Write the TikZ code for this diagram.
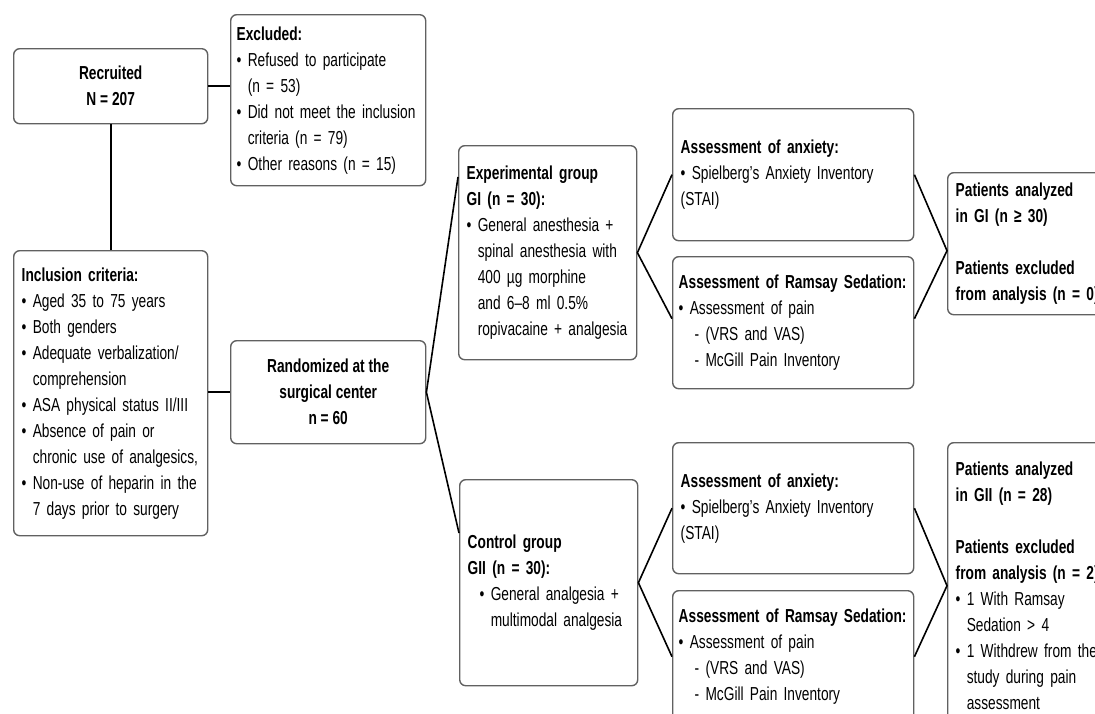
\documentclass[tikz,border=0pt]{standalone}
\usepackage{fontspec}
\setmainfont{Liberation Sans}[FakeStretch=0.73]
\usepackage{tikz}
\newcommand\flowfont{\fontsize{9.4}{13}\selectfont\hyphenpenalty=10000\exhyphenpenalty=10000}
\newcommand\ind{\hphantom{\textbullet\ }}
\tikzset{
  box/.style={
    draw=black!62, line width=0.7pt, rounded corners=3pt,
    anchor=north west, inner xsep=3pt, inner ysep=2pt,
    align=left, font=\flowfont
  },
  cbox/.style={box, align=center},
  link/.style={draw=black, line width=0.8pt}
}

\begin{document}
\begin{tikzpicture}[x=0.5pt,y=-0.5pt]
	\useasboundingbox (0,0) rectangle (1095,713);
	\clip (0,0) rectangle (1095,713);
	% left column
	\node[cbox, minimum width=97pt, minimum height=37.5pt] (rec) at (13,48)
	    {\textbf{Recruited}\\\textbf{N = 207}};
	\node[box, text width=91.5pt, minimum height=85.5pt] (excl) at (230,14)
	    {\textbf{Excluded:}\\
	     • Refused to participate\\
	     \ind(n = 53)\\
	     • Did not meet the inclusion\\
	     \ind criteria (n = 79)\\
	     • Other reasons (n = 15)};
	\node[box, inner xsep=4pt, text width=89pt, minimum height=142.5pt] (incl) at (13,250)
	    {\textbf{Inclusion criteria:}\\
	     • Aged 35 to 75 years\\
	     • Both genders\\
	     • Adequate verbalization/\\
	     \ind comprehension\\
	     • ASA physical status II/III\\
	     • Absence of pain or\\
	     \ind chronic use of analgesics,\\
	     • Non-use of heparin in the\\
	     \ind 7 days prior to surgery};
	\node[cbox, minimum width=97.5pt, minimum height=51.5pt] (rand) at (230,340)
	    {\textbf{Randomized at the}\\\textbf{surgical center}\\\textbf{n = 60}};
	% groups
	\node[box, inner xsep=4pt, text width=81pt, minimum height=107pt] (expgrp) at (458,145)
	    {\textbf{Experimental group}\\
	     \textbf{GI (n = 30):}\\
	     • General anesthesia +\\
	     \ind spinal anesthesia with\\
	     \ind 400 µg morphine\\
	     \ind and 6–8 ml 0.5\%\\
	     \ind ropivacaine + analgesia};
	\node[box, inner xsep=4pt, text width=81pt, minimum height=103pt] (ctrl) at (459,479)
	    {\textbf{Control group}\\
	     \textbf{GII (n = 30):}\\
	     \hspace*{6pt}• General analgesia +\\
	     \hspace*{6pt}\ind multimodal analgesia};
	% assessments
	\node[box, inner xsep=4pt, text width=112.5pt, minimum height=66pt] (anx1) at (672,108)
	    {\textbf{Assessment of anxiety:}\\
	     • Spielberg’s Anxiety Inventory\\
	     (STAI)\\[4pt]};
	\node[box, text width=114.5pt, minimum height=66pt] (ram1) at (672,256)
	    {\mbox{\textbf{Assessment of Ramsay Sedation:}}\\
	     • Assessment of pain\\
	     \hspace*{8pt}- (VRS and VAS)\\
	     \hspace*{8pt}- McGill Pain Inventory};
	\node[box, inner xsep=4pt, text width=112.5pt, minimum height=65.5pt] (anx2) at (672,442)
	    {\textbf{Assessment of anxiety:}\\
	     • Spielberg’s Anxiety Inventory\\
	     (STAI)};
	\node[box, text width=114.5pt, minimum height=66pt] (ram2) at (672,590)
	    {\mbox{\textbf{Assessment of Ramsay Sedation:}}\\
	     • Assessment of pain\\
	     \hspace*{8pt}- (VRS and VAS)\\
	     \hspace*{8pt}- McGill Pain Inventory};
	% results
	\node[box, inner xsep=4pt, text width=80pt, minimum height=71pt] (pgi) at (947,172)
	    {\textbf{Patients analyzed}\\
	     \textbf{in GI (n ≥ 30)}\\[13pt]
	     \textbf{Patients excluded}\\
	     \textbf{from analysis (n = 0)}};
	\node[box, inner xsep=4pt, text width=80pt, minimum height=143pt] (pgii) at (947,442)
	    {\textbf{Patients analyzed}\\
	     \textbf{in GII (n = 28)}\\[13pt]
	     \textbf{Patients excluded}\\
	     \textbf{from analysis (n = 2)}\\
	     • 1 With Ramsay\\
	     \ind Sedation > 4\\
	     • 1 Withdrew from the\\
	     \ind study during pain\\
	     \ind assessment\\[12pt]};
	% connectors
	\draw[link] (rec.east) -- (excl.west |- rec.east);
	\draw[link] (rec.south) -- (incl.north);
	\draw[link] (incl.east |- rand.west) -- (rand.west);
	\draw[link] ([yshift=-16pt]expgrp.north west) -- (rand.east) -- ([yshift=-27pt]ctrl.north west);
	\draw[link] (anx1.west) -- (expgrp.east) -- ([yshift=2pt]ram1.west);
	\draw[link] (anx2.west) -- (ctrl.east) -- (ram2.west);
	\draw[link] (anx1.east) -- ([yshift=-3.5pt]pgi.west) -- ([yshift=2pt]ram1.east);
	\draw[link] (anx2.east) -- (pgii.west) -- (ram2.east);
\end{tikzpicture}
\end{document}
